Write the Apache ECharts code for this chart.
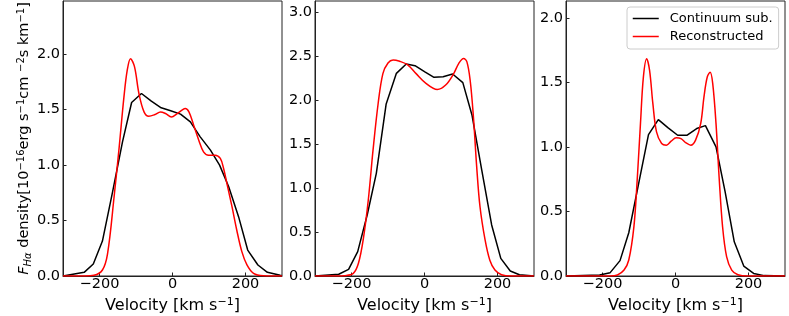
<!DOCTYPE html>
<html><head><meta charset="utf-8">
<script src="https://cdn.jsdelivr.net/npm/echarts@6/dist/echarts.min.js"></script>
<style>html,body{margin:0;padding:0;background:#fff}#c{width:789px;height:316px}</style>
</head><body><div id="c"></div>
<script>
// ---- data ----
const p1BlackV = [-300,-242,-217,-192,-165,-137,-112,-85,-58,-31,-5,22,49,76,104,129,154,181,206,234,260,295,300];
const p1BlackF = [0,0.033,0.108,0.315,0.745,1.21,1.565,1.646,1.577,1.517,1.49,1.46,1.39,1.255,1.135,1.0,0.805,0.535,0.234,0.099,0.033,0.006,0.003];
const p1RedV = [-300,-240,-215,-192,-178,-160,-146,-133,-124,-115,-104,-92,-78,-65,-48,-33,-19,-3,13,26,35,45,58,72,85,99,117,131,140,149,163,176,190,204,222,249,300];
const p1RedF = [0,0,0.006,0.054,0.2,0.715,1.165,1.615,1.856,1.96,1.886,1.646,1.48,1.44,1.456,1.48,1.465,1.435,1.465,1.495,1.51,1.48,1.36,1.225,1.12,1.09,1.09,1.06,0.97,0.835,0.625,0.415,0.22,0.1,0.024,0.003,0];

const p2BlackV = [-300,-235,-208,-183,-157,-132,-105,-77,-50,-26,1,26,51,77,105,130,157,184,209,235,260,292,300];
const p2BlackF = [0,0.02,0.076,0.277,0.693,1.167,1.955,2.303,2.409,2.39,2.32,2.258,2.265,2.295,2.197,1.83,1.2,0.58,0.2,0.057,0.015,0.002,0];
const p2RedV = [-300,-240,-220,-195,-181,-168,-154,-141,-127,-114,-100,-86,-68,-46,-23,4,35,58,80,94,107,116,125,134,143,152,166,179,193,211,238,300];
const p2RedF = [0,0,0.004,0.03,0.144,0.41,0.864,1.43,1.96,2.30,2.42,2.455,2.44,2.40,2.30,2.19,2.12,2.17,2.30,2.417,2.473,2.436,2.227,1.81,1.24,0.79,0.41,0.18,0.068,0.015,0,0];

const p3BlackV = [-300,-208,-179,-152,-128,-101,-74,-47,-21,6,31,58,82,111,136,161,187,214,243,300];
const p3BlackF = [0,0.008,0.026,0.119,0.335,0.716,1.095,1.211,1.149,1.09,1.09,1.142,1.165,1.0,0.652,0.265,0.077,0.02,0.003,0];
const p3RedV = [-300,-180,-159,-141,-128,-114,-105,-96,-88,-79,-71,-62,-52,-38,-25,-12,2,15,29,42,55,69,78,87,95,102,111,120,129,140,154,171,198,300];
const p3RedF = [0,0,0.008,0.046,0.124,0.381,0.742,1.18,1.54,1.683,1.593,1.335,1.116,1.026,1.013,1.044,1.07,1.064,1.031,1.013,1.052,1.18,1.387,1.541,1.578,1.49,1.18,0.742,0.381,0.15,0.046,0.01,0,0];

const yMax = [2.48, 3.125, 2.13];
const xTicks = [-200, 0, 200];
const yTicks = [[0,0.5,1.0,1.5,2.0],[0,0.5,1.0,1.5,2.0,2.5,3.0],[0,0.5,1.0,1.5,2.0]];
const nameBlack = 'Continuum sub.';
const nameRed = 'Reconstructed';
const xTitle = 'Velocity [km s{sup|−1}]';
const yTitle = '{it|F}{sub|Hα} density[10{sup|−16}erg s{sup|−1}cm {sup|−2}s km{sup|−1}]';

const panels = [
  {bv:p1BlackV,bf:p1BlackF,rv:p1RedV,rf:p1RedF},
  {bv:p2BlackV,bf:p2BlackF,rv:p2RedV,rf:p2RedF},
  {bv:p3BlackV,bf:p3BlackF,rv:p3RedV,rf:p3RedF}
];
const zip = (a,b)=>a.map((v,i)=>[v,b[i]]);

const gridLefts = [63, 315, 566];
const FONT = 'DejaVu Sans';
const richX = {
  sup:{fontSize:11, fontFamily:FONT, color:'#000', verticalAlign:'top', lineHeight:18}
};
const richY = {
  sup:{fontSize:10, fontFamily:FONT, color:'#000', verticalAlign:'top', lineHeight:17},
  sub:{fontSize:10, fontFamily:FONT, fontStyle:'italic', color:'#000', verticalAlign:'bottom', lineHeight:17},
  it:{fontSize:14.5, fontFamily:FONT, fontStyle:'italic', color:'#000', lineHeight:17}
};

const grids=[], xAxes=[], yAxes=[], series=[];
panels.forEach((p,i)=>{
  grids.push({left:gridLefts[i], top:1, width:219, height:275, show:true, borderColor:'#222', borderWidth:1,
    containLabel:false, outerBoundsMode:'none'});
  xAxes.push({
    type:'value', gridIndex:i, min:-300, max:300,
    axisLine:{show:true,onZero:false,lineStyle:{color:'#222',width:1}},
    axisTick:{inside:true,length:3.5,customValues:xTicks,lineStyle:{color:'#222'}},
    axisLabel:{customValues:xTicks, fontFamily:FONT, fontSize:14.5, color:'#000', margin:1,
      formatter:v=>String(v).replace('-','−')},
    splitLine:{show:false},
    name:xTitle, nameLocation:'middle', nameGap:16,
    nameTextStyle:{fontFamily:FONT, fontSize:16, color:'#000', lineHeight:18, rich:richX}
  });
  const ya = {
    type:'value', gridIndex:i, min:0, max:yMax[i],
    axisLine:{show:true,onZero:false,lineStyle:{color:'#222',width:1}},
    axisTick:{inside:true,length:3.5,customValues:yTicks[i],lineStyle:{color:'#222'}},
    axisLabel:{customValues:yTicks[i], fontFamily:FONT, fontSize:14.5, color:'#000', margin:3,
      formatter:v=>v.toFixed(1)},
    splitLine:{show:false}
  };
  if(i===0){
    ya.name = yTitle; ya.nameLocation='middle'; ya.nameGap=27; ya.nameRotate=90;
    ya.nameTextStyle = {fontFamily:FONT, fontSize:14.5, color:'#000', lineHeight:17, rich:richY};
  }
  yAxes.push(ya);
  series.push({name:nameBlack,type:'line',xAxisIndex:i,yAxisIndex:i,data:zip(p.bv,p.bf),
    symbol:'none',lineStyle:{color:'#000',width:1.5},itemStyle:{color:'#000'},animation:false,z:2});
  series.push({name:nameRed,type:'line',xAxisIndex:i,yAxisIndex:i,data:zip(p.rv,p.rf),
    symbol:'none',smooth:0.35,lineStyle:{color:'#ff0000',width:1.5},itemStyle:{color:'#ff0000'},animation:false,z:3});
});

const chart = echarts.init(document.getElementById('c'), null, {renderer:'canvas'});
chart.setOption({
  animation:false,
  backgroundColor:'#fff',
  grid:grids, xAxis:xAxes, yAxis:yAxes, series:series,
  legend:{
    data:[nameBlack,nameRed], orient:'vertical', left:627, top:7,
    itemWidth:26, itemHeight:14, itemGap:5, padding:[5,6,6,5],
    borderColor:'#ccc', borderWidth:1, borderRadius:3, backgroundColor:'rgba(255,255,255,0.8)',
    itemStyle:{opacity:0}, lineStyle:{width:1.5},
    textStyle:{fontFamily:FONT, fontSize:13, color:'#000', padding:[0,0,0,6]}
  }
});
</script></body></html>
